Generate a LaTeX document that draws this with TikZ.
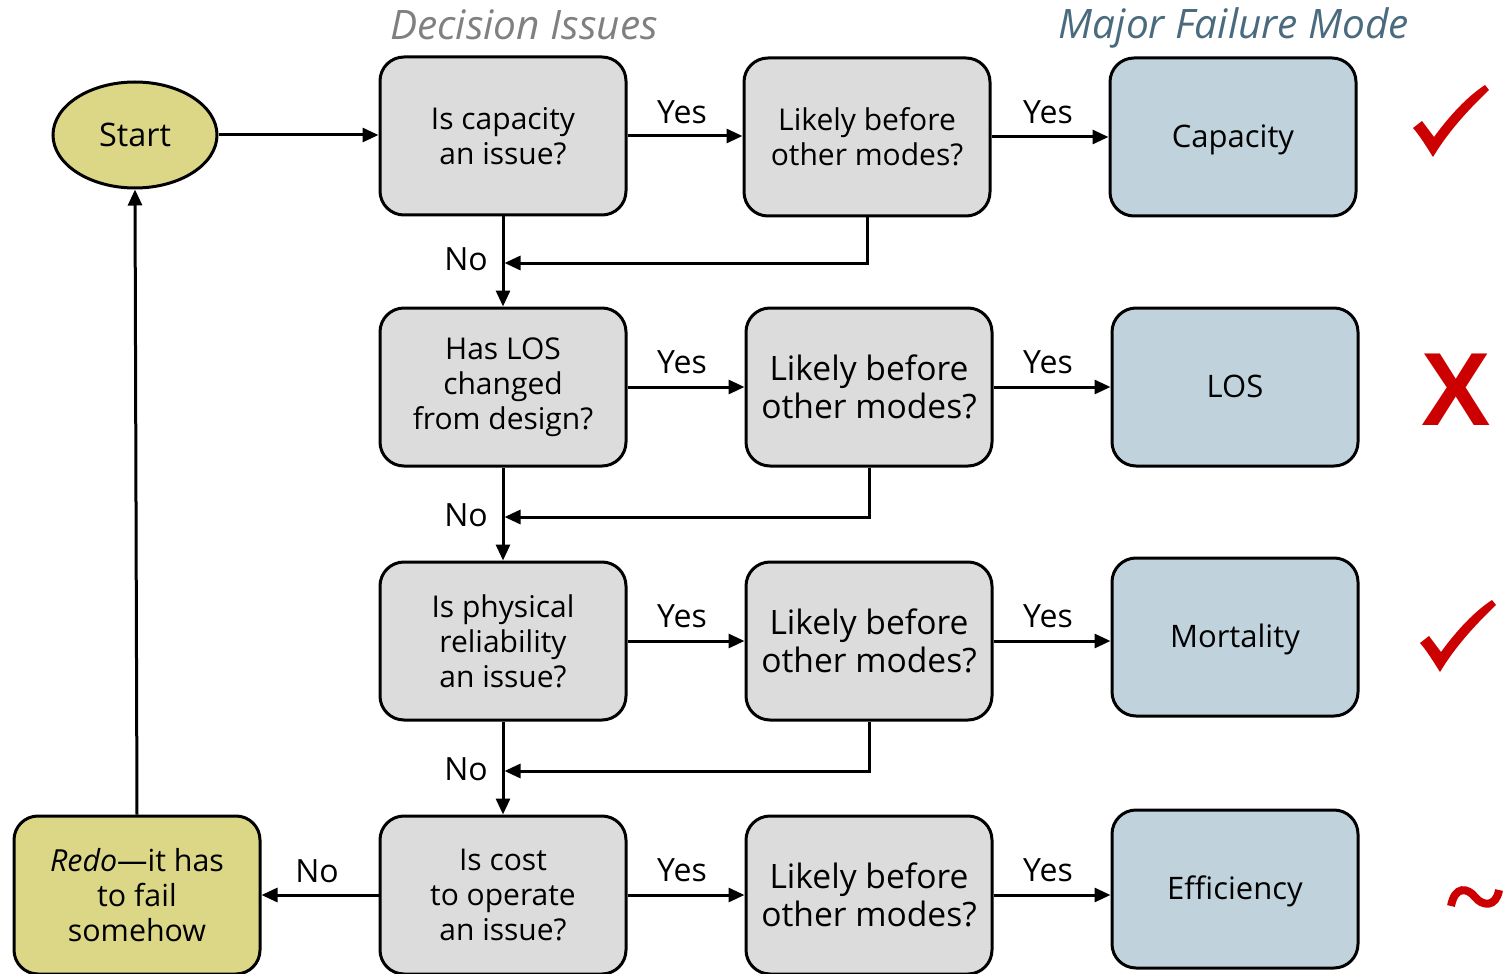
\documentclass[tikz,border=0pt]{standalone}
\usepackage{fontspec}
\setmainfont{Open Sans}
\usetikzlibrary{arrows.meta,shapes.geometric}
\definecolor{boxgray}{RGB}{220,220,220}
\definecolor{modeblue}{RGB}{192,211,220}
\definecolor{startfill}{RGB}{219,215,135}
\definecolor{markred}{RGB}{204,0,0}
\definecolor{hdgray}{RGB}{128,128,128}
\definecolor{hdblue}{RGB}{74,106,126}
\tikzset{
  box/.style={draw, line width=1.5pt, rounded corners=12pt, minimum width=123pt, minimum height=79pt, align=center, inner sep=2pt},
  dec/.style={box, fill=boxgray, font=\fontsize{15}{17.5}\selectfont},
  lik/.style={box, fill=boxgray, font=\fontsize{16.8}{19}\selectfont},
  mode/.style={box, fill=modeblue, font=\fontsize{15.5}{17}\selectfont, text depth=1pt},
  term/.style={box, fill=startfill, font=\fontsize{15.2}{17.5}\selectfont},
  arr/.style={line width=1.5pt, -{Triangle[length=8pt,width=7pt]}},
  lbl/.style={font=\fontsize{16}{18}\selectfont, inner sep=0pt},
  hdr/.style={font=\fontsize{20.3}{22}\selectfont\itshape, inner sep=0pt, anchor=base},
  redmark/.style={fill=markred, draw=none}
}
\begin{document}
\begin{tikzpicture}[x=0.5pt, y=-0.5pt]
\useasboundingbox (0,0) rectangle (1506,974);
% headers
\node[hdr, text=hdgray] (h1) at (524,40) {Decision Issues};
\node[hdr, text=hdblue] (h2) at (1234,39) {Major Failure Mode};
% start
\node[ellipse, draw, line width=1.5pt, fill=startfill, minimum width=82pt, minimum height=53pt, font=\fontsize{16.2}{18}\selectfont] (start) at (135,135) {Start};
% column 1
\node[dec] (q1) at (503,136) {Is capacity\\an issue?};
\node[dec] (q2) at (503,387) {Has LOS\\changed\\from design?};
\node[dec] (q3) at (503,641) {Is physical\\reliability\\an issue?};
\node[dec] (q4) at (503,895) {Is cost\\to operate\\an issue?};
% column 2
\node[lik, font=\fontsize{15}{17.5}\selectfont] (l1) at (867,137) {Likely before\\other modes?};
\node[lik] (l2) at (869,387) {Likely before\\other modes?};
\node[lik] (l3) at (869,641) {Likely before\\other modes?};
\node[lik] (l4) at (869,895) {Likely before\\other modes?};
% column 3
\node[mode] (m1) at (1233,137) {Capacity};
\node[mode] (m2) at (1235,387) {LOS};
\node[mode] (m3) at (1235,637) {Mortality};
\node[mode] (m4) at (1235,889) {Efficiency};
% redo
\node[term] (redo) at (137,895) {\textit{Redo}---it has\\to fail\\somehow};
% coordinates
\coordinate (j1) at (504.5,263);
\coordinate (j2) at (504.5,517);
\coordinate (j3) at (504.5,771);
% arrows
\draw[arr] (start.east) -- (q1.west |- start.east);
\foreach \r in {1,2,3,4}{
  \draw[arr] (q\r.east) -- (l\r.west |- q\r.east);
  \draw[arr] (l\r.east) -- (m\r.west |- l\r.east);
}
\draw[arr] (q1.south) -- (q2.north);
\draw[arr] (q2.south) -- (q3.north);
\draw[arr] (q3.south) -- (q4.north);
\draw[arr] (l1.south) |- (j1);
\draw[arr] (l2.south) |- (j2);
\draw[arr] (l3.south) |- (j3);
\draw[arr] (q4.west) -- (redo.east);
\draw[arr] (redo.north) -- (start.south);
% labels
\foreach \y [count=\i] in {112,362,616,870}{
  \node[lbl] (ya\i) at (682,\y) {Yes};
  \node[lbl] (yb\i) at (1048,\y) {Yes};
}
\node[lbl] (n1) at (466,259) {No};
\node[lbl] (n2) at (466,515) {No};
\node[lbl] (n3) at (466,769) {No};
\node[lbl] (n4) at (317,871) {No};
% marks
\fill[redmark] (1413,128) -- (1422,121) -- (1434,137) .. controls (1450,115) and (1468,96) .. (1485,85) -- (1489,90) .. controls (1468,110) and (1448,132) .. (1433,157) .. controls (1426,146) and (1420,136) .. cycle;
\begin{scope}[shift={(7,515)}]
\fill[redmark] (1413,128) -- (1422,121) -- (1434,137) .. controls (1450,115) and (1468,96) .. (1485,85) -- (1489,90) .. controls (1468,110) and (1448,132) .. (1433,157) .. controls (1426,146) and (1420,136) .. cycle;
\end{scope}
\node[text=markred, font={\fontspec{Liberation Sans}\bfseries\fontsize{52}{52}\selectfont}, inner sep=0pt] (xm) at (1456,390) {X};
\draw[markred, line width=4pt] (1451,906) .. controls (1455,885) and (1468,888) .. (1475,897) .. controls (1482,906) and (1496,908) .. (1499,890);
\end{tikzpicture}
\end{document}
